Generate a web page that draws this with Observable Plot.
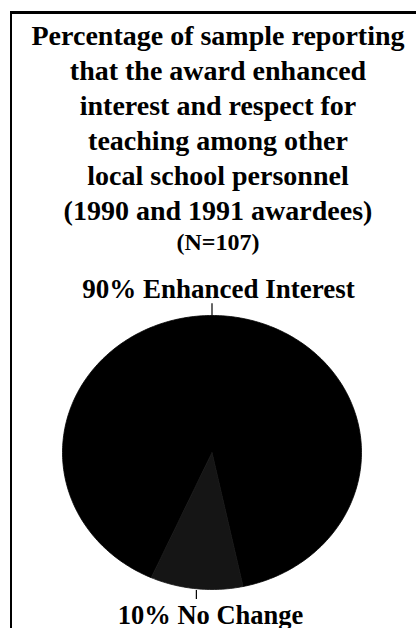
<!DOCTYPE html>
<html>
<head>
<meta charset="utf-8">
<script src="https://cdn.jsdelivr.net/npm/d3@7"></script>
<script src="https://cdn.jsdelivr.net/npm/@observablehq/plot@0.6"></script>
<style>
  html, body { margin: 0; padding: 0; background: #fff; overflow: hidden; width: 416px; height: 628px; }
  #frame { position: absolute; left: 10px; top: 11px; width: 440px; height: 660px;
           border-left: 2px solid #000; border-top: 3px solid #000; }
  #title { position: absolute; left: 10px; top: 18px; width: 416px; text-align: center;
           font-family: "Liberation Serif", "Times New Roman", serif; font-weight: bold; color: #000; }
  #title .t { font-size: 28px; line-height: 35px; white-space: nowrap; }
  #title .n { font-size: 24px; line-height: 28px; }
  #chart { position: absolute; left: 0; top: 255px; }
</style>
</head>
<body>
<div id="frame"></div>
<div id="title"></div>
<div id="chart"></div>
<script>
// ---- data ----
const titleLines = [
  "Percentage of sample reporting",
  "that the award enhanced",
  "interest and respect for",
  "teaching among other",
  "local school personnel",
  "(1990 and 1991 awardees)"
];
const sampleNote = "(N=107)";
const categories = ["Enhanced Interest", "No Change"];
const percents = [90, 10];
const sliceLabels = ["90% Enhanced Interest", "10% No Change"];

// ---- styles / layout ----
const sliceColors = ["#000000", "#151515"];
const startDeg = 204;           // where the first slice begins (clockwise from top)
const fontFamily = "Liberation Serif, Times New Roman, serif";

// title (HTML, above the SVG)
const title = document.getElementById("title");
titleLines.forEach(t => {
  const d = document.createElement("div");
  d.className = "t"; d.textContent = t; title.appendChild(d);
});
const n = document.createElement("div");
n.className = "n"; n.textContent = sampleNote; title.appendChild(n);

// pie geometry from data
const rad = Math.PI / 180;
const arcs = d3.pie().sort(null).value(d => d)
  .startAngle(startDeg * rad).endAngle(startDeg * rad + 2 * Math.PI)(percents);

const slicePts = arcs.map((a, i) => {
  const pts = [{x: 0, y: 0, cat: categories[i]}];
  const steps = Math.max(2, Math.ceil((a.endAngle - a.startAngle) / rad));
  for (let k = 0; k <= steps; k++) {
    const t = a.startAngle + (a.endAngle - a.startAngle) * k / steps;
    pts.push({x: Math.sin(t), y: Math.cos(t), cat: categories[i]});
  }
  pts.push({x: 0, y: 0, cat: categories[i]});
  return pts;
});

// label anchors: first label above the pie, second at the middle of its slice below
const mid1 = (arcs[1].startAngle + arcs[1].endAngle) / 2;
const ticks = [
  {x: 0, y1: 1, y2: 1.09},
  {x: Math.sin(mid1), y1: Math.cos(mid1) - 0.01, y2: Math.cos(mid1) - 0.075}
];
const labelData = [
  {x: 0, y: 1, text: sliceLabels[0]},
  {x: 0, y: -1, text: sliceLabels[1]}
];

const chart = Plot.plot({
  width: 416,
  height: 373,
  margin: 0,
  x: {domain: [-1, 1], range: [62, 361], axis: null},
  y: {domain: [-1, 1], range: [334, 60], axis: null},
  marks: [
    ...slicePts.map((pts, i) =>
      Plot.line(pts, {x: "x", y: "y", fill: sliceColors[i], stroke: sliceColors[i], strokeWidth: 0.8, curve: "linear"})
    ),
    Plot.link(ticks, {x1: "x", x2: "x", y1: "y1", y2: "y2", stroke: "#000", strokeWidth: 1.2}),
    Plot.text([labelData[0]], {x: "x", y: "y", text: "text", dy: -18, dx: 6.5, lineAnchor: "bottom",
      fontSize: 27, fontWeight: "bold", fontFamily, fill: "#000"}),
    Plot.text([labelData[1]], {x: "x", y: "y", text: "text", dy: 34, dx: -1.5, lineAnchor: "bottom",
      fontSize: 26.5, fontWeight: "bold", fontFamily, fill: "#000"})
  ]
});
document.getElementById("chart").appendChild(chart);
</script>
</body>
</html>
